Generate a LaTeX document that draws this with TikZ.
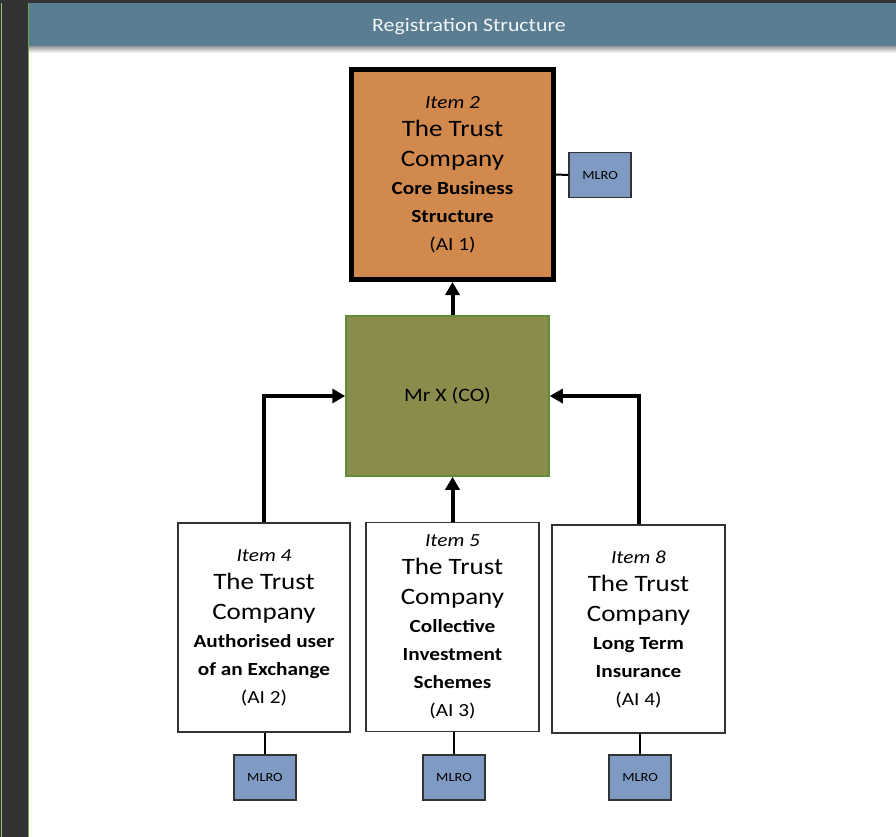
\documentclass[tikz,border=0pt]{standalone}
\usepackage{fontspec}
\setmainfont{Carlito}[FakeStretch=1.15]
\usetikzlibrary{arrows.meta}

\definecolor{headblue}{HTML}{5A7D92}
\definecolor{sidegray}{HTML}{333333}
\definecolor{sidegreen}{HTML}{6DAA4C}
\definecolor{coreorange}{HTML}{D1894D}
\definecolor{coolive}{HTML}{8A8C4B}
\definecolor{coborder}{HTML}{5E8C3A}
\definecolor{mlroblue}{HTML}{7F9BC4}

\tikzset{
  itembox/.style={draw=black!80, fill=white, line width=1.2pt, minimum width=172pt,
    minimum height=209pt, inner sep=0pt, align=center, font=\fontsize{18.5}{28}\selectfont},
  mlrobox/.style={draw=black!80, fill=mlroblue, line width=1.2pt, minimum width=62pt,
    minimum height=45pt, inner sep=0pt, font=\fontsize{12.5}{14}\selectfont},
  feed/.style={line width=4pt, -{Triangle[length=13pt,width=14pt]}},
  tie/.style={line width=2pt}
}
\newcommand{\bigname}[1]{{\fontsize{23.5}{28}\selectfont #1}}

\begin{document}
\begin{tikzpicture}[x=1pt, y=-1pt]
    \useasboundingbox (0,0) rectangle (896,837);

    % Фон, левая полоса и заголовок
    \fill[white] (0,0) rectangle (896,837);
    \fill[sidegray] (0,0) rectangle (896,3);
    \fill[sidegray] (0,0) rectangle (28,837);
    \draw[sidegreen, line width=1.2pt] (28.5,3) -- (28.5,837);
    \draw[sidegreen!70, line width=0.8pt] (1,3) -- (1,837);
    \fill[headblue] (29,3) rectangle (896,47);
    \shade[top color=black!35, bottom color=white] (29,47) rectangle (896,53);
    \node[text=white!92!headblue, font=\fontsize{19}{22}\selectfont] (title) at (469,26.5) {Registration Structure};

    % Основная компания
    \node[draw=black, fill=coreorange, line width=5pt, minimum width=202pt, minimum height=210pt,
      inner sep=0pt, align=center, font=\fontsize{18.5}{28}\selectfont] (core) at (452.5,174.5)
      {{\itshape Item 2}\\ \bigname{The Trust}\\[2pt] \bigname{Company}\\ \textbf{Core Business}\\ \textbf{Structure}\\ (AI 1)};
    \node[mlrobox] (mlro1) at (600,175) {MLRO};
    \draw[tie] (core.east) -- (mlro1.west);

    % Контролёр
    \node[draw=coborder, fill=coolive, line width=1.5pt, minimum width=203pt, minimum height=160pt,
      font=\fontsize{19}{22}\selectfont] (mrx) at (447.5,396) {Mr X (CO)};

    % Нижние компании
    \node[itembox] (item4) at (264,627.5)
      {{\itshape Item 4}\\ \bigname{The Trust}\\[2pt] \bigname{Company}\\ \textbf{Authorised user}\\ \textbf{of an Exchange}\\ (AI 2)};
    \node[itembox, minimum width=173pt] (item5) at (452.5,627)
      {{\itshape Item 5}\\ \bigname{The Trust}\\[2pt] \bigname{Company}\\ \textbf{Collective}\\ \textbf{Investment}\\ \textbf{Schemes}\\ (AI 3)};
    \node[itembox, minimum width=173pt, minimum height=208pt] (item8) at (638.5,629)
      {{\itshape Item 8}\\ \bigname{The Trust}\\[2pt] \bigname{Company}\\ \textbf{Long Term}\\ \textbf{Insurance}\\ (AI 4)};

    \node[mlrobox] (mlro4) at (265,777.5) {MLRO};
    \node[mlrobox] (mlro5) at (454,777.5) {MLRO};
    \node[mlrobox] (mlro8) at (640,777.5) {MLRO};
    \draw[tie] (item4.south -| mlro4) -- (mlro4.north);
    \draw[tie] (item5.south -| mlro5) -- (mlro5.north);
    \draw[tie] (item8.south -| mlro8) -- (mlro8.north);

    % Стрелки
    \draw[feed] (core.south |- mrx.north) -- (core.south);
    \draw[feed] (item5.north) -- (item5.north |- mrx.south);
    \draw[feed] (item4.north) |- (mrx.west);
    \draw[feed] (item8.north) |- (mrx.east);
\end{tikzpicture}
\end{document}
